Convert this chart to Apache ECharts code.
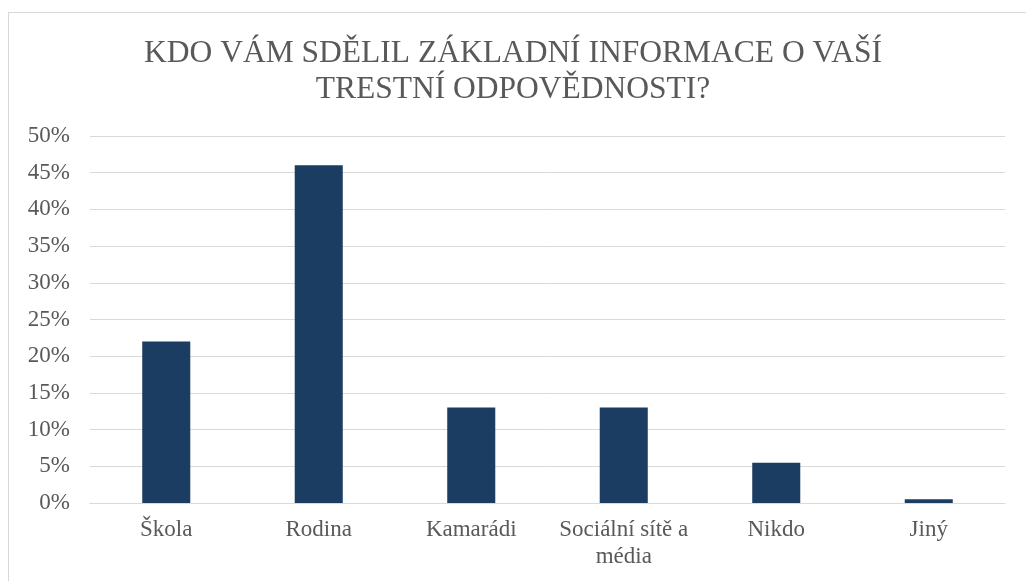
<!DOCTYPE html>
<html>
<head>
<meta charset="utf-8">
<script src="https://cdn.jsdelivr.net/npm/echarts@6/dist/echarts.min.js"></script>
<style>
  html, body { margin: 0; padding: 0; background: #fff; }
  #frame { position: absolute; left: 8px; top: 12px; width: 1100px; height: 700px; border: 1px solid #d9d9d9; box-sizing: border-box; }
  #main { position: absolute; left: 0; top: 0; width: 1026px; height: 581px; }
</style>
</head>
<body>
<div id="frame"></div>
<div id="main"></div>
<script>
// data
const categories = ['Škola', 'Rodina', 'Kamarádi', 'Sociální sítě a\nmédia', 'Nikdo', 'Jiný'];
const shares = [0.22, 0.46, 0.13, 0.13, 0.055, 0.005];
const chartTitle = 'KDO VÁM SDĚLIL ZÁKLADNÍ INFORMACE O VAŠÍ\nTRESTNÍ ODPOVĚDNOSTI?';

const chart = echarts.init(document.getElementById('main'));
const fontFam = '"Liberation Serif", "DejaVu Serif", serif';

chart.setOption({
    animation: false,
    title: {
        text: chartTitle,
        left: 'center',
        top: 31,
        padding: [5, 5, 5, 17],
        textStyle: { fontFamily: fontFam, fontSize: 31.5, fontWeight: 'normal', color: '#595959', lineHeight: 36 },
    },
    grid: { left: 90, right: 21, top: 136, bottom: 78, containLabel: false, outerBoundsMode: 'none' },
    xAxis: {
        type: 'category',
        data: categories,
        axisLine: { lineStyle: { color: '#d9d9d9', width: 1 } },
        axisTick: { show: false },
        axisLabel: {
            interval: 0,
            fontFamily: fontFam, fontSize: 23, color: '#595959', margin: 13,
            lineHeight: 27,
        },
    },
    yAxis: {
        type: 'value',
        min: 0,
        max: 0.5,
        interval: 0.05,
        axisLine: { show: false },
        axisTick: { show: false },
        splitLine: { lineStyle: { color: '#d9d9d9', width: 1 } },
        axisLabel: {
            fontFamily: fontFam, fontSize: 23, color: '#595959', margin: 20,
            formatter: (v) => Math.round(v * 100) + '%',
        },
    },
    series: [{
        type: 'bar',
        data: shares,
        barWidth: '31.5%',
        itemStyle: { color: '#1b3d62' },
    }],
});
</script>
</body>
</html>
